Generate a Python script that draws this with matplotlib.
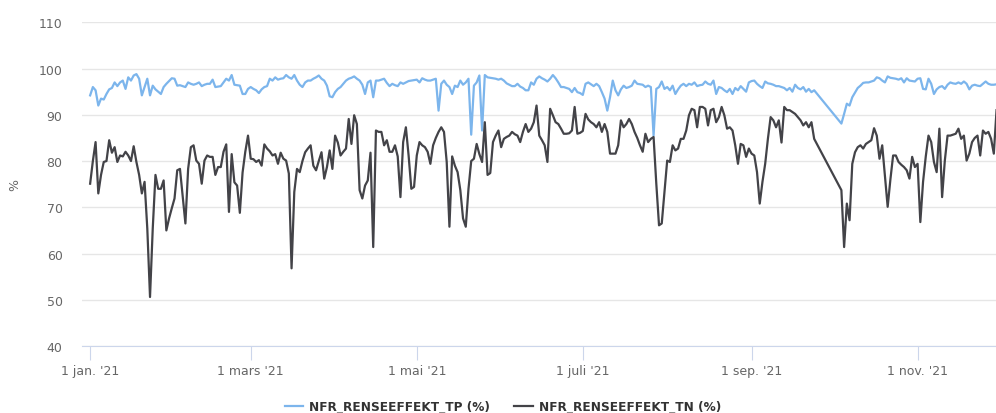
import matplotlib
matplotlib.use("Agg")
import matplotlib.pyplot as plt
import pandas as pd

# DATA (day offset from 1 jan. 2021, value in %)
#=====================================================================
start = pd.Timestamp("2021-01-01")

tp_days = list(range(0, 267)) + list(range(276, 334))
tp_values = [
    94.2, 96, 95.3, 92, 93.5, 93.3, 94.5, 95.5, 95.8, 97,
    96.2, 97, 97.4, 95.6, 98.1, 97.4, 98.5, 98.8, 97.8, 94.2,
    96, 97.8, 94.2, 96.3, 95.5, 95, 94.5, 96, 96.7, 97.3,
    97.9, 97.8, 96.3, 96.4, 96.2, 96, 97, 96.7, 96.5, 96.7,
    97, 96.2, 96.5, 96.7, 96.7, 97.6, 96, 96.1, 96.2, 97,
    97.8, 97.4, 98.6, 96.5, 96.4, 96.3, 94.5, 94.5, 95.6, 96,
    95.6, 95.3, 94.7, 95.5, 96, 96.2, 97.8, 97.4, 98.1, 97.6,
    97.8, 97.9, 98.6, 98.1, 97.8, 98.6, 97.4, 96.5, 96, 97,
    97.4, 97.4, 97.8, 98.1, 98.5, 97.8, 97.4, 96.3, 94, 93.8,
    94.9, 95.6, 96, 96.7, 97.4, 97.8, 98, 98.3, 97.8, 97.4,
    96.5, 94.5, 97, 97.4, 93.8, 97.4, 97.4, 97.6, 97.8, 96.9,
    96.2, 96.7, 96.4, 96.2, 97, 96.7, 97, 97.3, 97.4, 97.5,
    97.6, 97, 97.9, 97.6, 97.4, 97.4, 97.6, 97.8, 90.9, 96.7,
    97.4, 96.5, 96, 94.5, 96.3, 96, 97.4, 96.5, 97, 97.8,
    85.7, 96.3, 97, 98.5, 86.6, 98.6, 98.1, 98, 97.9, 97.8,
    97.6, 97.8, 97.4, 96.8, 96.5, 96.2, 96.2, 96.7, 96.1, 95.8,
    95.3, 95.3, 97, 96.5, 97.8, 98.3, 97.9, 97.6, 97.2, 97.8,
    98.6, 97.9, 97, 96, 96, 95.8, 95.6, 94.9, 95.8, 94.9,
    94.7, 94.3, 96.7, 97, 96.6, 96.2, 96.7, 96.2, 94.9, 93.5,
    90.9, 93.8, 97.4, 95.3, 94.2, 95.5, 96.3, 95.8, 96, 96.3,
    97.4, 96.7, 96.6, 96.5, 96, 96.3, 96, 85.5, 95.6, 96,
    97.2, 95.6, 96, 95.3, 96.3, 94.5, 95.5, 96.3, 96.7, 96.2,
    96.7, 96.5, 97, 96.2, 96.4, 96.5, 97.2, 96.7, 96.5, 97.4,
    94.5, 96, 95.8, 95.3, 94.9, 95.6, 94.5, 95.8, 95.3, 96.2,
    95.6, 95, 97, 97.3, 97.4, 96.7, 96.2, 95.8, 97.2, 96.8,
    96.7, 96.5, 96.2, 96.2, 96, 95.8, 95.3, 95.8, 95, 96.5,
    95.8, 95.5, 96, 95, 95.6, 94.9, 95.3,
    88.1, 90.2, 92.4, 92, 93.8, 94.8, 95.8, 96.3, 96.9, 97,
    97, 97.2, 97.4, 98.1, 97.9, 97.4, 97, 98.3, 98, 97.9,
    97.8, 97.6, 97.9, 97, 97.9, 97.4, 97.3, 97.2, 97.8, 97.9,
    95.6, 95.5, 97.8, 96.7, 94.5, 95.5, 96, 96.2, 95.6, 96.5,
    97, 96.8, 96.7, 97, 96.7, 97.2, 96.7, 95.5, 96.3, 96.5,
    96.3, 96.2, 96.7, 97.2, 96.7, 96.5, 96.5, 96.6,
]

tn_days = list(range(0, 34)) + list(range(35, 267)) + list(range(276, 292)) + list(range(293, 334))
tn_values = [
    75.1, 80, 84.1, 73, 77, 79.8, 80, 84.5, 81.8, 83,
    79.8, 81.2, 81, 82, 81.2, 80, 83.2, 79.8, 77, 73,
    75.5, 65.4, 50.6, 65.4, 77, 74, 74, 75.8, 65, 67.6,
    69.8, 71.9, 78, 78.3,
    66.5, 78.3, 83, 83.4, 80.1, 79.4, 75.1, 80.1, 81.2, 80.9,
    80.9, 77, 78.7, 78.7, 82, 83.6, 69, 81.5, 75.4, 74.7,
    68.8, 77.5, 82, 85.5, 80.5, 80.4, 79.8, 80.2, 79, 83.6,
    82.7, 82.1, 81.2, 81.5, 79.4, 81.8, 80.5, 80.1, 77.3, 56.8,
    73.3, 78.3, 77.6, 80, 81.9, 82.7, 83.4, 79, 78, 80,
    81.9, 76.2, 78.7, 82.3, 78.3, 85.5, 84, 81.2, 82, 82.7,
    89.1, 83.7, 89.9, 88, 73.7, 71.9, 74.7, 75.8, 81.8, 61.4,
    86.6, 86.3, 86.3, 83.4, 84.5, 82, 82, 83.4, 81, 72.2,
    84.1, 87.3, 81.2, 74, 74.4, 81.2, 84.1, 83.4, 83, 82,
    79.4, 83.4, 85, 86.3, 87.3, 86.3, 79.8, 65.8, 81, 79,
    77.6, 73.7, 67.6, 65.8, 74, 80, 80.5, 83.7, 81.5, 79.8,
    88.4, 77, 77.4, 84.1, 85.5, 86.6, 83, 84.8, 85.2, 85.5,
    86.3, 85.8, 85.5, 84.1, 86.3, 88, 86.3, 87, 88.4, 92,
    85.5, 84.5, 83.4, 79.8, 91.3, 89.9, 88.4, 88, 87, 85.9,
    85.9, 86, 86.6, 91.7, 85.9, 86.1, 86.5, 90.2, 89, 88.4,
    88, 87.3, 88.4, 86.3, 88, 86.3, 81.6, 81.6, 81.6, 83.4,
    88.8, 87.3, 88, 89.1, 88, 86.3, 85, 83.4, 82, 85.9,
    84.1, 84.8, 85.2, 75.1, 66.1, 66.5, 73.3, 80.1, 79.8, 83.4,
    82.3, 82.7, 84.8, 84.8, 86.6, 89.9, 91.3, 91, 87.3, 91.7,
    91.7, 91.3, 87.7, 91, 91.3, 88.4, 89.5, 91.7, 89.9, 87,
    87.3, 86.6, 83.4, 79.4, 83.7, 83.4, 80.9, 82.7, 81.6, 81.2,
    77.6, 70.8, 75.5, 79.4, 84.8, 89.5, 88.8, 87.3, 88.8, 84,
    91.7, 91, 91, 90.6, 90.2, 89.5, 88.8, 87.7, 88.4, 87.3,
    88.4, 84.8,
    73.7, 61.4, 70.8, 67.2, 79.4, 81.9, 83, 83.4, 82.7, 83.7,
    84.1, 84.5, 87.1, 85.5, 80.5, 83.4,
    70.1, 76, 81.2, 81.2, 79.8, 79.2, 78.7, 78, 76.2, 80.9,
    78.7, 79.4, 66.8, 75.5, 81, 85.5, 84.1, 79.8, 77.6, 87,
    72.2, 80.1, 85.5, 85.5, 85.7, 85.9, 87, 84.8, 85.5, 80.1,
    81.6, 84.1, 85, 85.5, 81.2, 86.6, 85.9, 86.3, 84.8, 81.6,
    91,
]

tick_dates = ["2021-01-01", "2021-03-01", "2021-05-01", "2021-07-01", "2021-09-01", "2021-11-01"]
tick_labels = ["1 jan. '21", "1 mars '21", "1 mai '21", "1 juli '21", "1 sep. '21", "1 nov. '21"]
series_names = ["NFR_RENSEEFFEKT_TP (%)", "NFR_RENSEEFFEKT_TN (%)"]

tp_dates = start + pd.to_timedelta(tp_days, unit="D")
tn_dates = start + pd.to_timedelta(tn_days, unit="D")


# PLOT
#=====================================================================
plt.rcParams["font.family"] = "DejaVu Sans"

fig = plt.figure(figsize=(9.96, 4.14), dpi=100)
ax = fig.add_axes([0.0823, 0.1618, 0.9177, 0.7819])

ax.plot(tp_dates, tp_values, color="#7cb5ec", lw=1.6, label=series_names[0])
ax.plot(tn_dates, tn_values, color="#434348", lw=1.6, label=series_names[1])

ax.set_ylim(40, 110)
ax.set_yticks(range(40, 111, 10))
ax.set_xlim(start - pd.Timedelta(days=3), start + pd.Timedelta(days=332.8))
ax.set_xticks(pd.to_datetime(tick_dates))
ax.set_xticklabels(tick_labels)

ax.yaxis.grid(True, color="#e6e6e6", lw=1)
ax.set_axisbelow(True)
for side in ["top", "right", "left"]:
    ax.spines[side].set_visible(False)
ax.spines["bottom"].set_color("#ccd6eb")

ax.tick_params(axis="y", length=0, pad=14, labelcolor="#666666", labelsize=9)
ax.tick_params(axis="x", length=10, color="#ccd6eb", pad=3, labelcolor="#666666", labelsize=9)

ax.set_ylabel("%", color="#666666", fontsize=9)
ax.yaxis.set_label_coords(-0.066, 0.5)

fig.legend(loc="center", bbox_to_anchor=(0.505, 0.015), ncol=2, frameon=False,
           handlelength=1.5, handletextpad=0.5, columnspacing=2.0,
           prop={"size": 8.7, "weight": "bold"}, labelcolor="#333333")

fig.savefig("out.png", dpi=100)
